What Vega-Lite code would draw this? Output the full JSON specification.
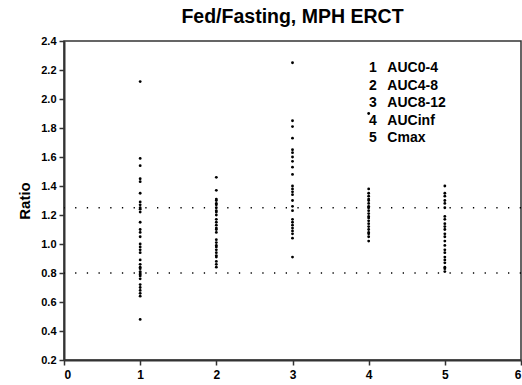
{
  "$schema": "https://vega.github.io/schema/vega-lite/v6.json",
  "width": 457,
  "height": 319,
  "autosize": {"type": "none"},
  "padding": {"left": 64, "top": 41, "right": 1, "bottom": 25},
  "background": "white",
  "config": {
    "font": "Liberation Sans",
    "view": {"stroke": "#333", "strokeWidth": 1.5},
    "axis": {
      "grid": false,
      "domainColor": "#333",
      "domainWidth": 2,
      "tickColor": "#333",
      "tickWidth": 1.5,
      "tickSize": 5,
      "labelOverlap": false,
      "labelFont": "Liberation Sans",
      "labelFontWeight": "bold",
      "labelColor": "#000",
      "titleFont": "Liberation Sans",
      "titleFontWeight": "bold",
      "titleColor": "#000"
    }
  },
  "title": {
    "text": "Fed/Fasting, MPH ERCT",
    "font": "Liberation Sans",
    "fontSize": 19.5,
    "fontWeight": "bold",
    "color": "#000",
    "anchor": "middle",
    "offset": 8
  },
  "datasets": {
    "points": [
      {"x": 1, "param": "AUC0-4", "ratio": 2.12},
      {"x": 1, "param": "AUC0-4", "ratio": 1.59},
      {"x": 1, "param": "AUC0-4", "ratio": 1.54},
      {"x": 1, "param": "AUC0-4", "ratio": 1.45},
      {"x": 1, "param": "AUC0-4", "ratio": 1.43},
      {"x": 1, "param": "AUC0-4", "ratio": 1.35},
      {"x": 1, "param": "AUC0-4", "ratio": 1.29},
      {"x": 1, "param": "AUC0-4", "ratio": 1.27},
      {"x": 1, "param": "AUC0-4", "ratio": 1.25},
      {"x": 1, "param": "AUC0-4", "ratio": 1.24},
      {"x": 1, "param": "AUC0-4", "ratio": 1.22},
      {"x": 1, "param": "AUC0-4", "ratio": 1.15},
      {"x": 1, "param": "AUC0-4", "ratio": 1.10},
      {"x": 1, "param": "AUC0-4", "ratio": 1.08},
      {"x": 1, "param": "AUC0-4", "ratio": 1.05},
      {"x": 1, "param": "AUC0-4", "ratio": 1.00},
      {"x": 1, "param": "AUC0-4", "ratio": 0.98},
      {"x": 1, "param": "AUC0-4", "ratio": 0.96},
      {"x": 1, "param": "AUC0-4", "ratio": 0.94},
      {"x": 1, "param": "AUC0-4", "ratio": 0.89},
      {"x": 1, "param": "AUC0-4", "ratio": 0.86},
      {"x": 1, "param": "AUC0-4", "ratio": 0.84},
      {"x": 1, "param": "AUC0-4", "ratio": 0.83},
      {"x": 1, "param": "AUC0-4", "ratio": 0.81},
      {"x": 1, "param": "AUC0-4", "ratio": 0.80},
      {"x": 1, "param": "AUC0-4", "ratio": 0.79},
      {"x": 1, "param": "AUC0-4", "ratio": 0.78},
      {"x": 1, "param": "AUC0-4", "ratio": 0.76},
      {"x": 1, "param": "AUC0-4", "ratio": 0.72},
      {"x": 1, "param": "AUC0-4", "ratio": 0.70},
      {"x": 1, "param": "AUC0-4", "ratio": 0.68},
      {"x": 1, "param": "AUC0-4", "ratio": 0.66},
      {"x": 1, "param": "AUC0-4", "ratio": 0.64},
      {"x": 1, "param": "AUC0-4", "ratio": 0.48},
      {"x": 2, "param": "AUC4-8", "ratio": 1.46},
      {"x": 2, "param": "AUC4-8", "ratio": 1.37},
      {"x": 2, "param": "AUC4-8", "ratio": 1.31},
      {"x": 2, "param": "AUC4-8", "ratio": 1.30},
      {"x": 2, "param": "AUC4-8", "ratio": 1.28},
      {"x": 2, "param": "AUC4-8", "ratio": 1.27},
      {"x": 2, "param": "AUC4-8", "ratio": 1.25},
      {"x": 2, "param": "AUC4-8", "ratio": 1.23},
      {"x": 2, "param": "AUC4-8", "ratio": 1.22},
      {"x": 2, "param": "AUC4-8", "ratio": 1.20},
      {"x": 2, "param": "AUC4-8", "ratio": 1.17},
      {"x": 2, "param": "AUC4-8", "ratio": 1.15},
      {"x": 2, "param": "AUC4-8", "ratio": 1.13},
      {"x": 2, "param": "AUC4-8", "ratio": 1.11},
      {"x": 2, "param": "AUC4-8", "ratio": 1.10},
      {"x": 2, "param": "AUC4-8", "ratio": 1.08},
      {"x": 2, "param": "AUC4-8", "ratio": 1.03},
      {"x": 2, "param": "AUC4-8", "ratio": 1.01},
      {"x": 2, "param": "AUC4-8", "ratio": 0.99},
      {"x": 2, "param": "AUC4-8", "ratio": 0.98},
      {"x": 2, "param": "AUC4-8", "ratio": 0.96},
      {"x": 2, "param": "AUC4-8", "ratio": 0.94},
      {"x": 2, "param": "AUC4-8", "ratio": 0.92},
      {"x": 2, "param": "AUC4-8", "ratio": 0.91},
      {"x": 2, "param": "AUC4-8", "ratio": 0.88},
      {"x": 2, "param": "AUC4-8", "ratio": 0.86},
      {"x": 2, "param": "AUC4-8", "ratio": 0.84},
      {"x": 3, "param": "AUC8-12", "ratio": 2.25},
      {"x": 3, "param": "AUC8-12", "ratio": 1.85},
      {"x": 3, "param": "AUC8-12", "ratio": 1.81},
      {"x": 3, "param": "AUC8-12", "ratio": 1.73},
      {"x": 3, "param": "AUC8-12", "ratio": 1.65},
      {"x": 3, "param": "AUC8-12", "ratio": 1.63},
      {"x": 3, "param": "AUC8-12", "ratio": 1.60},
      {"x": 3, "param": "AUC8-12", "ratio": 1.57},
      {"x": 3, "param": "AUC8-12", "ratio": 1.53},
      {"x": 3, "param": "AUC8-12", "ratio": 1.48},
      {"x": 3, "param": "AUC8-12", "ratio": 1.40},
      {"x": 3, "param": "AUC8-12", "ratio": 1.38},
      {"x": 3, "param": "AUC8-12", "ratio": 1.36},
      {"x": 3, "param": "AUC8-12", "ratio": 1.34},
      {"x": 3, "param": "AUC8-12", "ratio": 1.30},
      {"x": 3, "param": "AUC8-12", "ratio": 1.26},
      {"x": 3, "param": "AUC8-12", "ratio": 1.23},
      {"x": 3, "param": "AUC8-12", "ratio": 1.17},
      {"x": 3, "param": "AUC8-12", "ratio": 1.15},
      {"x": 3, "param": "AUC8-12", "ratio": 1.13},
      {"x": 3, "param": "AUC8-12", "ratio": 1.11},
      {"x": 3, "param": "AUC8-12", "ratio": 1.09},
      {"x": 3, "param": "AUC8-12", "ratio": 1.07},
      {"x": 3, "param": "AUC8-12", "ratio": 1.04},
      {"x": 3, "param": "AUC8-12", "ratio": 0.91},
      {"x": 4, "param": "AUCinf", "ratio": 1.90},
      {"x": 4, "param": "AUCinf", "ratio": 1.38},
      {"x": 4, "param": "AUCinf", "ratio": 1.35},
      {"x": 4, "param": "AUCinf", "ratio": 1.33},
      {"x": 4, "param": "AUCinf", "ratio": 1.31},
      {"x": 4, "param": "AUCinf", "ratio": 1.30},
      {"x": 4, "param": "AUCinf", "ratio": 1.28},
      {"x": 4, "param": "AUCinf", "ratio": 1.26},
      {"x": 4, "param": "AUCinf", "ratio": 1.25},
      {"x": 4, "param": "AUCinf", "ratio": 1.23},
      {"x": 4, "param": "AUCinf", "ratio": 1.21},
      {"x": 4, "param": "AUCinf", "ratio": 1.19},
      {"x": 4, "param": "AUCinf", "ratio": 1.18},
      {"x": 4, "param": "AUCinf", "ratio": 1.16},
      {"x": 4, "param": "AUCinf", "ratio": 1.14},
      {"x": 4, "param": "AUCinf", "ratio": 1.12},
      {"x": 4, "param": "AUCinf", "ratio": 1.10},
      {"x": 4, "param": "AUCinf", "ratio": 1.08},
      {"x": 4, "param": "AUCinf", "ratio": 1.07},
      {"x": 4, "param": "AUCinf", "ratio": 1.05},
      {"x": 4, "param": "AUCinf", "ratio": 1.02},
      {"x": 5, "param": "Cmax", "ratio": 1.40},
      {"x": 5, "param": "Cmax", "ratio": 1.35},
      {"x": 5, "param": "Cmax", "ratio": 1.33},
      {"x": 5, "param": "Cmax", "ratio": 1.30},
      {"x": 5, "param": "Cmax", "ratio": 1.28},
      {"x": 5, "param": "Cmax", "ratio": 1.25},
      {"x": 5, "param": "Cmax", "ratio": 1.19},
      {"x": 5, "param": "Cmax", "ratio": 1.17},
      {"x": 5, "param": "Cmax", "ratio": 1.14},
      {"x": 5, "param": "Cmax", "ratio": 1.12},
      {"x": 5, "param": "Cmax", "ratio": 1.10},
      {"x": 5, "param": "Cmax", "ratio": 1.07},
      {"x": 5, "param": "Cmax", "ratio": 1.05},
      {"x": 5, "param": "Cmax", "ratio": 1.02},
      {"x": 5, "param": "Cmax", "ratio": 0.99},
      {"x": 5, "param": "Cmax", "ratio": 0.96},
      {"x": 5, "param": "Cmax", "ratio": 0.94},
      {"x": 5, "param": "Cmax", "ratio": 0.91},
      {"x": 5, "param": "Cmax", "ratio": 0.89},
      {"x": 5, "param": "Cmax", "ratio": 0.87},
      {"x": 5, "param": "Cmax", "ratio": 0.84},
      {"x": 5, "param": "Cmax", "ratio": 0.83},
      {"x": 5, "param": "Cmax", "ratio": 0.81}
    ],
    "refs": [
      {"limit": 1.25},
      {"limit": 0.8}
    ]
  },
  "layer": [
    {
      "data": {"name": "points"},
      "mark": {"type": "point", "shape": "circle", "filled": true, "size": 8, "opacity": 1},
      "encoding": {
        "x": {
          "field": "x", "type": "quantitative",
          "scale": {"domain": [0, 6], "nice": false, "zero": false},
          "axis": {"title": null, "values": [0, 1, 2, 3, 4, 5, 6], "format": "d", "labelFontSize": 12, "labelPadding": 4}
        },
        "y": {
          "field": "ratio", "type": "quantitative",
          "scale": {"domain": [0.2, 2.4], "nice": false, "zero": false},
          "axis": {
            "title": "Ratio", "titleFontSize": 15, "titlePadding": 8,
            "values": [0.2, 0.4, 0.6, 0.8, 1.0, 1.2, 1.4, 1.6, 1.8, 2.0, 2.2, 2.4],
            "labelOverlap": false,
            "format": ".1f", "labelFontSize": 11, "labelPadding": 3
          }
        },
        "color": {
          "field": "param", "type": "nominal",
          "sort": ["AUC0-4", "AUC4-8", "AUC8-12", "AUCinf", "Cmax"],
          "scale": {"range": ["#000", "#000", "#000", "#000", "#000"]},
          "legend": {
            "orient": "none",
            "legendX": 291,
            "legendY": 20,
            "title": null,
            "padding": 0,
            "symbolSize": 0,
            "symbolStrokeWidth": 0,
            "symbolOpacity": 0,
            "labelOffset": 0,
            "labelFont": "Liberation Sans",
            "labelFontSize": 14,
            "labelFontWeight": "bold",
            "labelColor": "#000",
            "labelLimit": 200,
            "rowPadding": 3.6,
            "labelExpr": "(indexof(['AUC0-4','AUC4-8','AUC8-12','AUCinf','Cmax'], datum.label) + 1) + '\u00a0\u00a0\u2009' + datum.label"
          }
        }
      }
    },
    {
      "data": {"name": "refs"},
      "mark": {"type": "rule", "color": "#000", "strokeWidth": 1.4, "strokeDash": [1.3, 10.4]},
      "encoding": {
        "y": {
          "field": "limit", "type": "quantitative",
          "axis": {
            "title": "Ratio", "titleFontSize": 15, "titlePadding": 8,
            "values": [0.2, 0.4, 0.6, 0.8, 1.0, 1.2, 1.4, 1.6, 1.8, 2.0, 2.2, 2.4],
            "labelOverlap": false,
            "format": ".1f", "labelFontSize": 11, "labelPadding": 3
          }
        }
      }
    }
  ]
}
